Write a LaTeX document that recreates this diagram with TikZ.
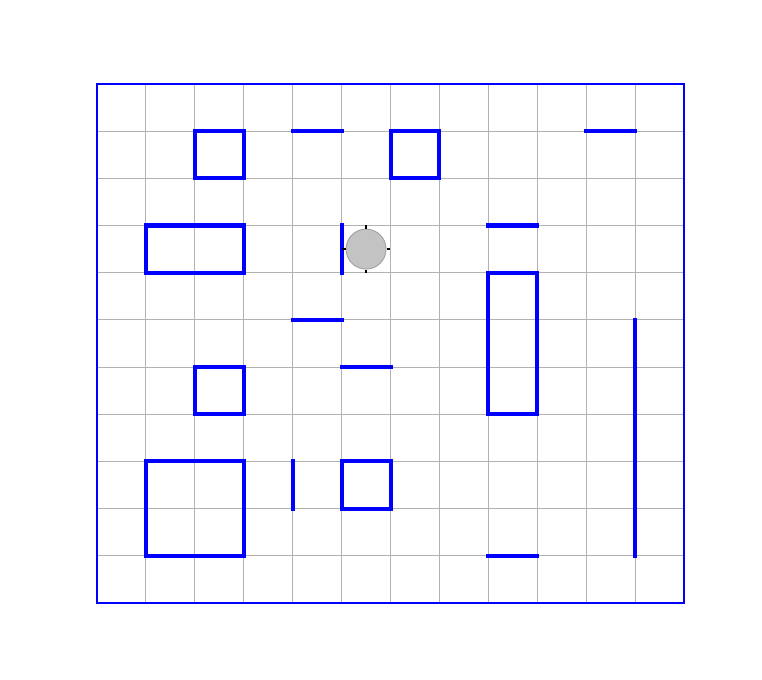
\documentclass[tikz,border=0pt]{standalone}
\usepackage{amsmath}
\usepackage{tikz}

\tikzset{
  wall/.style={blue, line width=2.3pt, line cap=rect},
  cellgrid/.style={gray!60, line width=0.55pt},
}

\begin{document}
\begin{tikzpicture}[x=0.9784cm, y=0.9436cm]
\useasboundingbox (-1.983, -1.632) rectangle (13.594, 12.780);
% grid
\foreach \i in {1,...,11} \draw [cellgrid] (\i, 0) -- (\i, 11);
\foreach \j in {1,...,10} \draw [cellgrid] (0, \j) -- (12, \j);
\draw [blue, line width=1.2pt] (0, 0) rectangle (12, 11);
% boxes
\draw [wall] (2, 9) rectangle (3, 10);
\draw [wall] (6, 9) rectangle (7, 10);
\draw [wall] (1, 7) rectangle (3, 8);
\draw [wall] (8, 4) rectangle (9, 7);
\draw [wall] (2, 4) rectangle (3, 5);
\draw [wall] (1, 1) rectangle (3, 3);
\draw [wall] (5, 2) rectangle (6, 3);
% single walls
\draw [wall] (4, 10) -- (5, 10);
\draw [wall] (10, 10) -- (11, 10);
\draw [wall] (5, 7) -- (5, 8);
\draw [wall] (8, 8) -- (9, 8);
\draw [wall] (4, 6) -- (5, 6);
\draw [wall] (5, 5) -- (6, 5);
\draw [wall] (11, 1) -- (11, 6);
\draw [wall] (4, 2) -- (4, 3);
\draw [wall] (8, 1) -- (9, 1);
% robot
\node [circle, minimum size=0.8cm, inner sep=0pt, fill=gray!55, fill opacity=0.85, draw=gray!75, line width=0.5pt] (robot) at (5.5, 7.5) {};
\foreach \a in {0, 90, 180, 270}
  \draw [black, line width=0.9pt] (robot.center) ++(\a:0.41cm) -- ++(\a:0.07cm);
\end{tikzpicture}
\end{document}
